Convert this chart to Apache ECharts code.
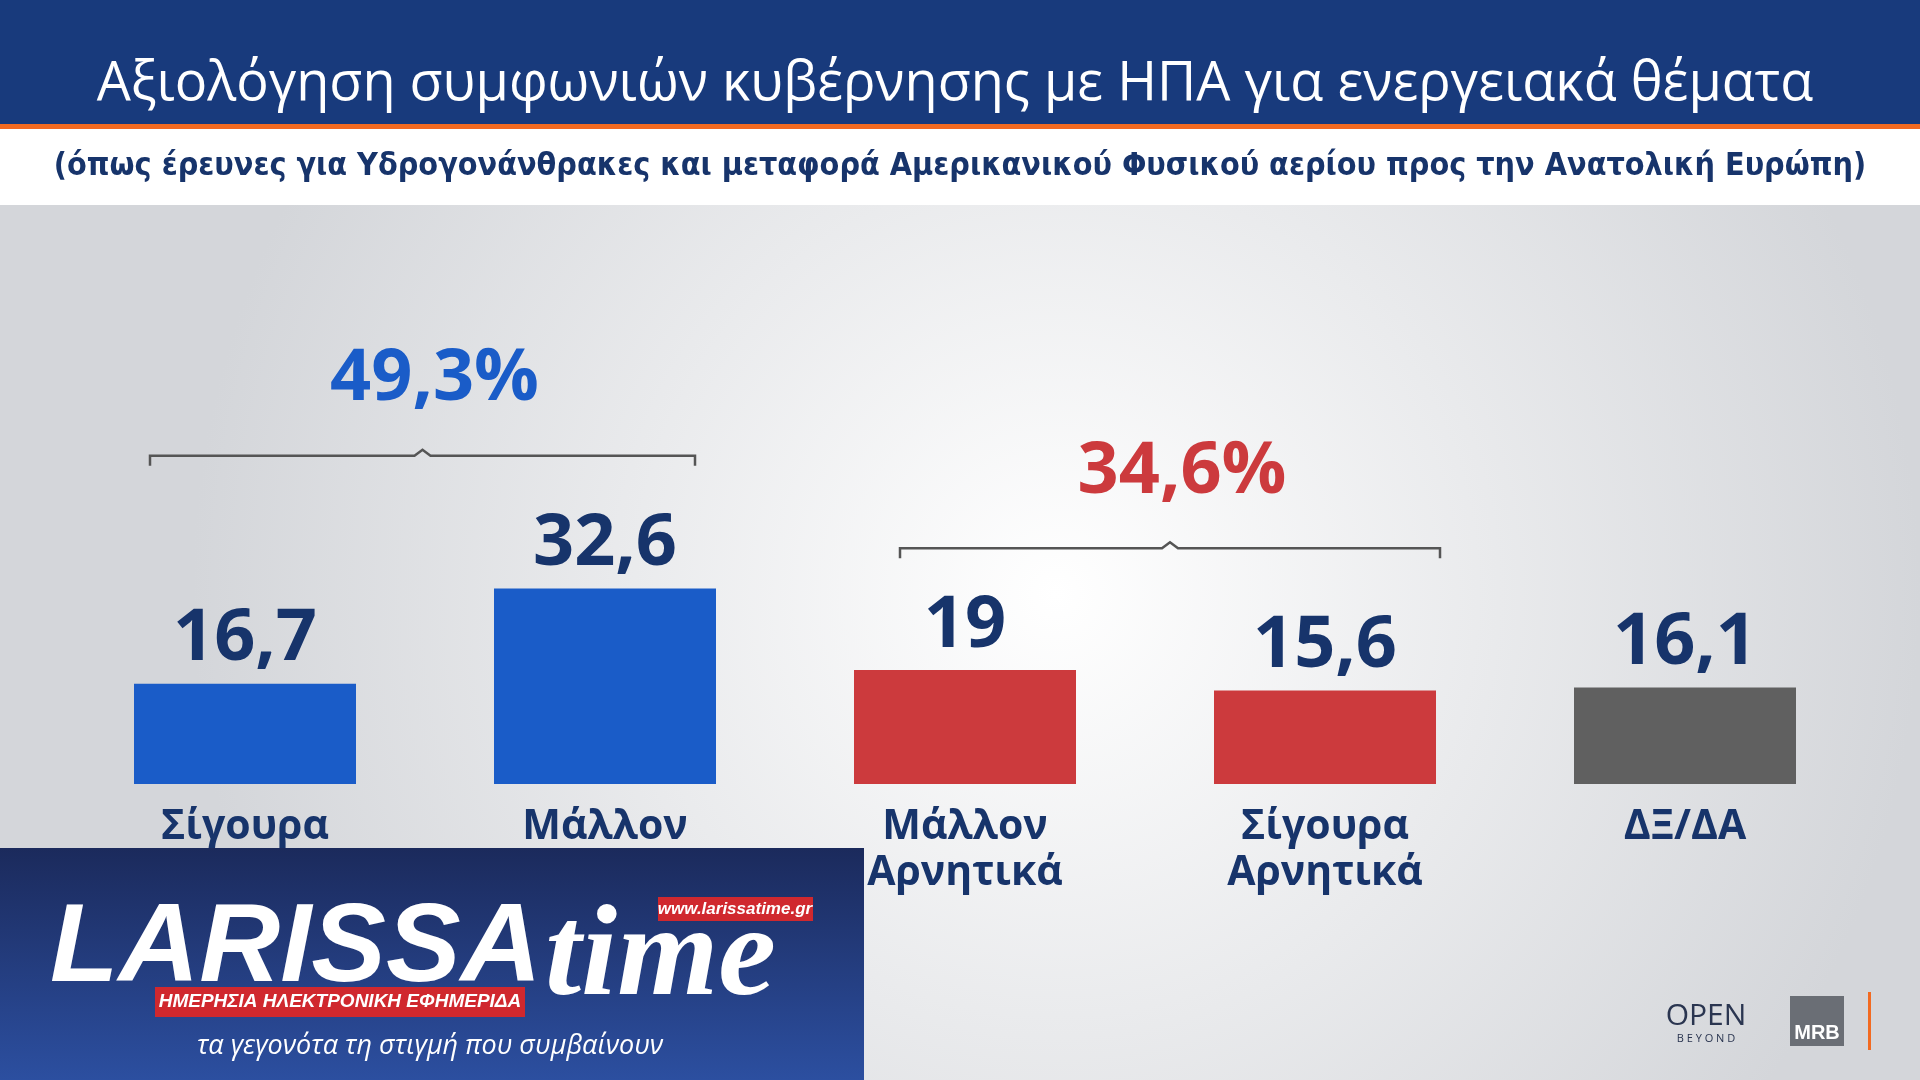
<!DOCTYPE html>
<html lang="el">
<head>
<meta charset="UTF-8">
<title>Αξιολόγηση συμφωνιών</title>
<script src="https://cdn.jsdelivr.net/npm/echarts@6/dist/echarts.min.js"></script>
<style>
    * { margin: 0; padding: 0; }
    body { width: 1920px; height: 1080px; overflow: hidden; }
    #chart { width: 1920px; height: 1080px; }
</style>
</head>
<body>
<div id="chart"></div>
<script>
    // δεδομένα
    var categories = ['Σίγουρα\nΝαι', 'Μάλλον\nΝαι', 'Μάλλον\nΑρνητικά', 'Σίγουρα\nΑρνητικά', 'ΔΞ/ΔΑ'];
    var values = [16.7, 32.6, 19, 15.6, 16.1];
    var barColors = ['#1a5cc8', '#1a5cc8', '#cc3a3d', '#cc3a3d', '#606060'];
    var groups = [
        {from: 0, to: 1, text: '49,3%', color: '#1a5cc8', level: 55.7},
        {from: 2, to: 3, text: '34,6%', color: '#cc3a3d', level: 40.3}
    ];

    var chart = echarts.init(document.getElementById('chart'));
    var navy = '#17346b';

    var option = {
        backgroundColor: {
            type: 'radial', x: 0.55, y: 0.55, r: 0.8,
            colorStops: [{offset: 0, color: '#ffffff'}, {offset: 1, color: '#d4d6da'}]
        },
        animation: false,
        grid: {left: 65, right: 55, top: 424, bottom: 296},
        xAxis: {
            type: 'category', data: categories,
            axisLine: {show: false}, axisTick: {show: false},
            axisLabel: {
                margin: 20, color: navy, fontSize: 41, fontWeight: 'bold',
                fontFamily: 'Open Sans', lineHeight: 46, verticalAlign: 'top'
            }
        },
        yAxis: {type: 'value', min: 0, max: 60, show: false, splitLine: {show: false}},
        series: [{
            type: 'bar', barWidth: 222,
            data: values.map(function (v, i) {
                return {value: v, itemStyle: {color: barColors[i]}};
            }),
            label: {
                show: true, position: 'top', distance: 8, color: navy,
                fontSize: 72, fontWeight: 'bold', fontFamily: 'Open Sans',
                formatter: function (p) { return String(p.value).replace('.', ','); }
            }
        }],
        graphic: []
    };
    chart.setOption(option);

    // σταθερά στοιχεία σελίδας
    var g = [
        {type: 'rect', shape: {x: 0, y: 0, width: 1920, height: 124}, style: {fill: '#183a7c'}},
        {type: 'rect', shape: {x: 0, y: 124, width: 1920, height: 5}, style: {fill: '#f26a21'}},
        {type: 'rect', shape: {x: 0, y: 129, width: 1920, height: 76}, style: {fill: '#ffffff'}},
        {type: 'text', x: 955, y: 85, style: {text: 'Αξιολόγηση συμφωνιών κυβέρνησης με ΗΠΑ για ενεργειακά θέματα',
            fill: '#fff', fontSize: 54, fontFamily: 'Open Sans', textAlign: 'center', textVerticalAlign: 'middle'}},
        {type: 'text', x: 960, y: 167, style: {text: '(όπως έρευνες για Υδρογονάνθρακες και μεταφορά Αμερικανικού Φυσικού αερίου προς την Ανατολική Ευρώπη)',
            fill: navy, fontSize: 32, fontWeight: 'bold', fontFamily: 'DejaVu Sans Condensed', textAlign: 'center', textVerticalAlign: 'middle'}}
    ];

    groups.forEach(function (gr) {
        var a = chart.convertToPixel({gridIndex: 0}, [gr.from, gr.level]);
        var b = chart.convertToPixel({gridIndex: 0}, [gr.to, gr.level]);
        var x1 = a[0] - 95, x2 = b[0] + 90 + (gr.from ? 25 : 0), y = a[1], mid = (x1 + x2) / 2;
        if (gr.from) { x1 += 30; mid = (x1 + x2) / 2; }
        g.push({type: 'polyline', shape: {points: [[x1, y + 16], [x1, y + 6], [mid - 8, y + 6], [mid, y], [mid + 8, y + 6], [x2, y + 6], [x2, y + 16]]},
            style: {stroke: '#555', lineWidth: 2.5, fill: null}});
        g.push({type: 'text', x: mid + 12, y: y - 70, style: {text: gr.text, fill: gr.color, fontSize: 72,
            fontWeight: 'bold', fontFamily: 'Open Sans', textAlign: 'center', textVerticalAlign: 'middle'}});
    });

    // λογότυπα
    var logo = [
        {type: 'rect', shape: {x: 0, y: 848, width: 864, height: 232},
            style: {fill: {type: 'linear', x: 0, y: 0, x2: 0, y2: 1, colorStops: [{offset: 0, color: '#1b2a5c'}, {offset: 1, color: '#2c4fa0'}]}}},
        {type: 'text', x: 50, y: 950, style: {text: 'LARISSA', fill: '#fff', fontSize: 112, fontWeight: 'bold',
            fontStyle: 'italic', fontFamily: 'Liberation Sans', textVerticalAlign: 'middle'}},
        {type: 'text', x: 545, y: 960, style: {text: 'time', fill: '#fff', fontSize: 130, fontWeight: 'bold',
            fontStyle: 'italic', fontFamily: 'Liberation Serif', textVerticalAlign: 'middle'}},
        {type: 'rect', shape: {x: 658, y: 897, width: 155, height: 24}, style: {fill: '#d0282e'}},
        {type: 'text', x: 735, y: 909, style: {text: 'www.larissatime.gr', fill: '#fff', fontSize: 17, fontWeight: 'bold',
            fontStyle: 'italic', fontFamily: 'Liberation Sans', textAlign: 'center', textVerticalAlign: 'middle'}},
        {type: 'rect', shape: {x: 155, y: 987, width: 370, height: 30}, style: {fill: '#d0282e'}},
        {type: 'text', x: 340, y: 1002, style: {text: 'ΗΜΕΡΗΣΙΑ ΗΛΕΚΤΡΟΝΙΚΗ ΕΦΗΜΕΡΙΔΑ', fill: '#fff', fontSize: 19, fontWeight: 'bold',
            fontStyle: 'italic', fontFamily: 'Liberation Sans', textAlign: 'center', textVerticalAlign: 'middle'}},
        {type: 'text', x: 430, y: 1046, style: {text: 'τα γεγονότα τη στιγμή που συμβαίνουν', fill: '#fff', fontSize: 27,
            fontStyle: 'italic', fontFamily: 'Open Sans', textAlign: 'center', textVerticalAlign: 'middle'}},
        {type: 'text', x: 1706, y: 1016, style: {text: 'OPEN', fill: '#2a3550', fontSize: 30, fontFamily: 'Open Sans',
            textAlign: 'center', textVerticalAlign: 'middle'}},
        {type: 'text', x: 1706, y: 1039, style: {text: 'B E Y O N D', fill: '#2a3550', fontSize: 11, fontFamily: 'Open Sans',
            textAlign: 'center', textVerticalAlign: 'middle'}},
        {type: 'rect', shape: {x: 1790, y: 996, width: 54, height: 50}, style: {fill: '#6a6e75'}},
        {type: 'text', x: 1817, y: 1033, style: {text: 'MRB', fill: '#fff', fontSize: 20, fontWeight: 'bold',
            fontFamily: 'Liberation Sans', textAlign: 'center', textVerticalAlign: 'middle'}},
        {type: 'rect', shape: {x: 1868, y: 992, width: 3, height: 58}, style: {fill: '#f26a21'}}
    ];
    logo.forEach(function (e) { e.z = 100; g.push(e); });

    chart.setOption({graphic: g});
</script>
</body>
</html>
